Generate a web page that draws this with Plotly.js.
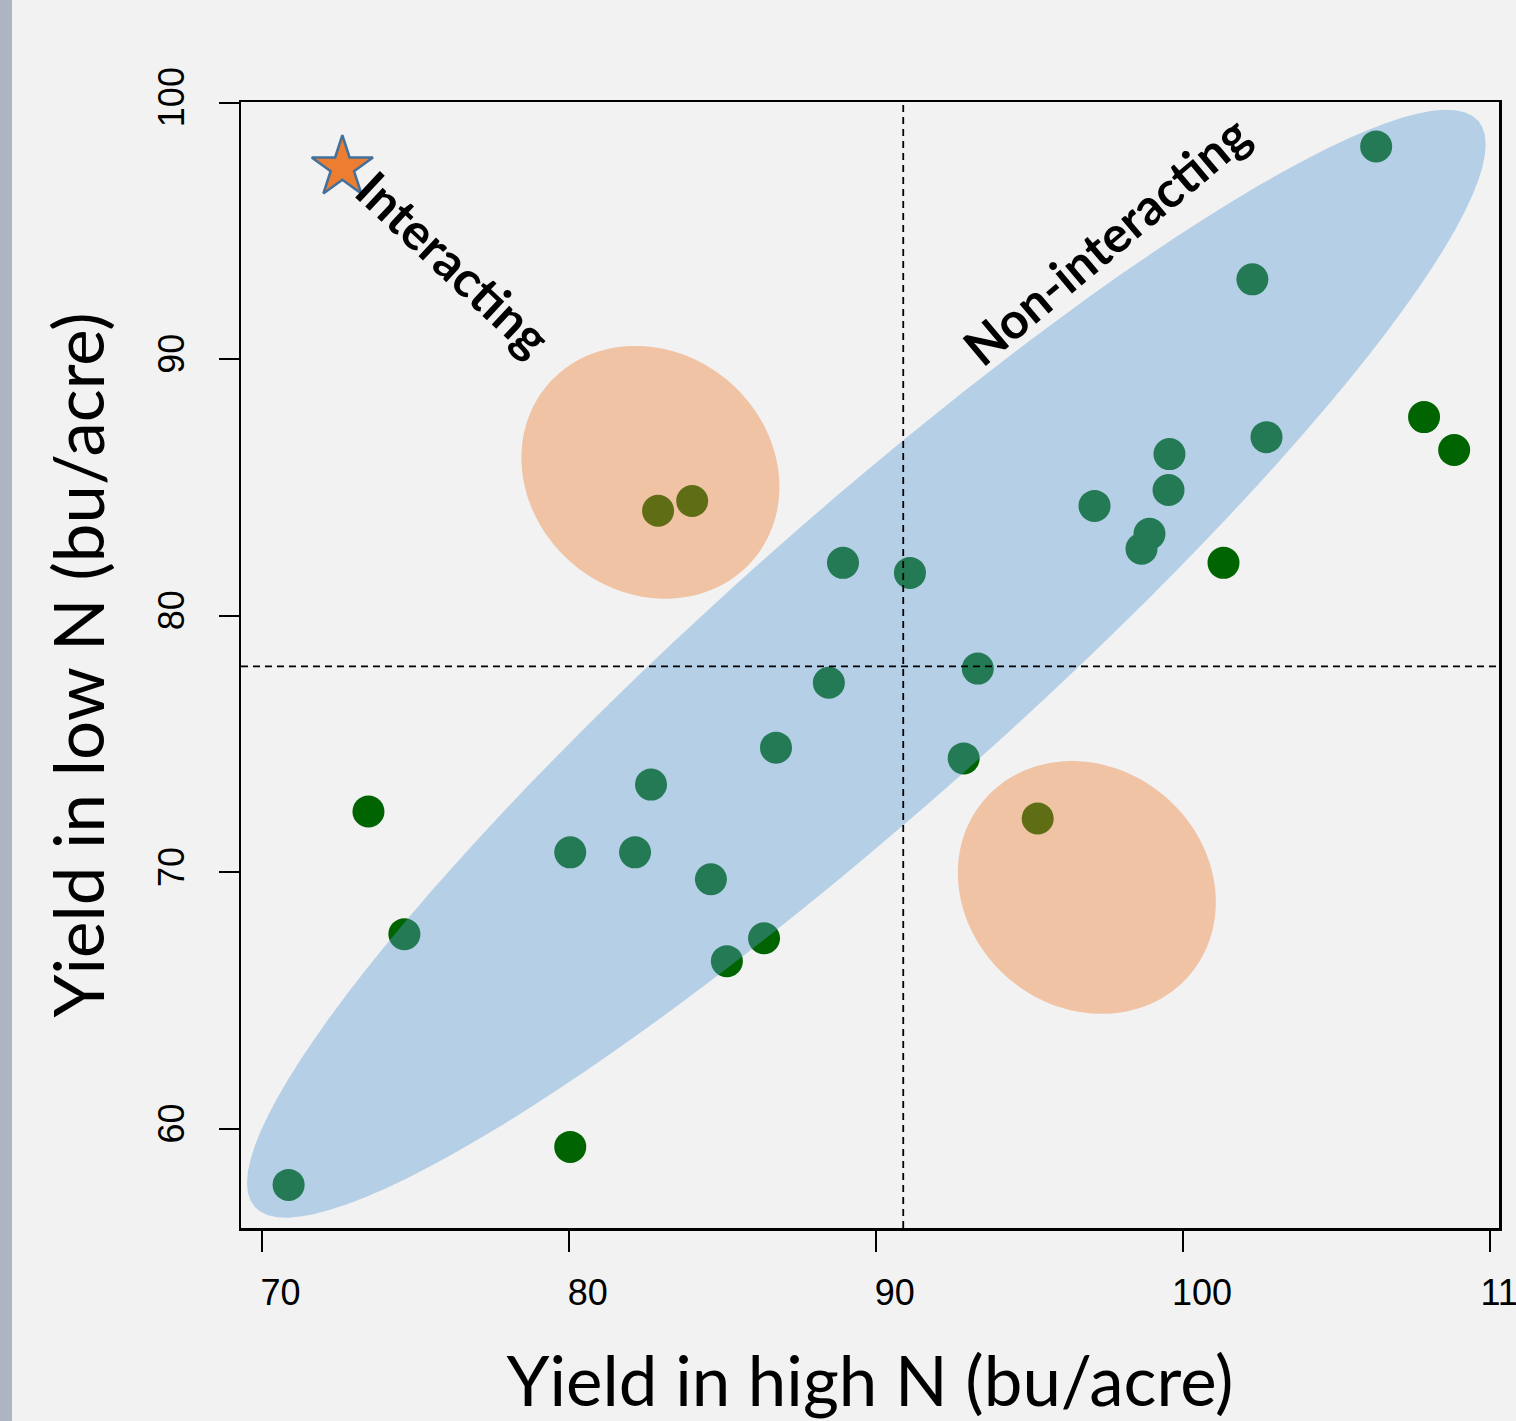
<!DOCTYPE html>
<html><head><meta charset="utf-8">
<script src="https://cdn.plot.ly/plotly-3.0.1.min.js"></script>
<style>html,body{margin:0;padding:0;background:#f2f2f2;}#chart{width:1516px;height:1421px;}</style>
</head><body><div id="chart"></div>
<script>
// ---- data ----
const yieldHighN = [106.29,102.26,107.85,108.83,102.72,99.56,99.53,97.12,98.91,98.65,101.32,88.93,91.11,84.02,82.91,93.32,88.47,86.75,92.86,82.68,73.48,95.27,80.05,82.16,84.63,74.65,86.36,85.15,80.05,70.88];
const yieldLowN  = [98.29,93.11,87.74,86.46,86.96,86.30,84.90,84.28,83.19,82.61,82.06,82.06,81.67,84.47,84.09,77.94,77.39,74.86,74.44,73.42,72.37,72.10,70.78,70.78,69.73,67.59,67.43,66.54,59.30,57.82];
const idealHighN = [72.63];
const idealLowN  = [97.47];
const xTicks = [70,80,90,100,110];
const yTicks = [60,70,80,90,100];
const labelInteracting = 'Interacting';
const labelNonInteracting = 'Non-interacting';

// ---- layout geometry ----
const W = 1516, H = 1421;
const mL = 241, mR = 17, mT = 102, mB = 193;
const xRange = [69.33, 110.29];
const yRange = [56.14, 100.02];
const xs = (W - mL - mR) / (xRange[1] - xRange[0]);
const ys = (H - mT - mB) / (yRange[1] - yRange[0]);

const mean = a => a.reduce((s, v) => s + v, 0) / a.length;
const xMean = mean(yieldHighN), yMean = mean(yieldLowN);

function ellipsePath(cx, cy, aPx, bPx, angDeg) {
  const t = angDeg * Math.PI / 180;
  let d = '';
  for (let i = 0; i <= 120; i++) {
    const u = i / 120 * 2 * Math.PI;
    const px = aPx * Math.cos(u) * Math.cos(t) - bPx * Math.sin(u) * Math.sin(t);
    const py = aPx * Math.cos(u) * Math.sin(t) + bPx * Math.sin(u) * Math.cos(t);
    d += (i ? 'L' : 'M') + (cx + px / xs).toFixed(4) + ',' + (cy + py / ys).toFixed(4);
  }
  return d + 'Z';
}

const traces = [
  {x: yieldHighN, y: yieldLowN, type: 'scatter', mode: 'markers',
   marker: {color: '#006400', size: 32, line: {width: 0}}, hoverinfo: 'x+y'},
  {x: idealHighN, y: idealLowN, type: 'scatter', mode: 'markers',
   marker: {symbol: 'star', color: '#ED7D31', size: 46, line: {color: '#41719C', width: 2.5}}}
];

const shapes = [
  {type: 'rect', xref: 'paper', yref: 'paper', x0: -mL / (W - mL - mR), x1: (12 - mL) / (W - mL - mR),
   y0: -mB / (H - mT - mB), y1: 1 + mT / (H - mT - mB), fillcolor: '#adb5c4', line: {width: 0}, layer: 'below'},
  {type: 'path', xref: 'x', yref: 'y', path: ellipsePath(89.69, 78.13, 818, 146, 41.6),
   fillcolor: '#5B9BD5', opacity: 0.4, line: {width: 0}, layer: 'above'},
  {type: 'path', xref: 'x', yref: 'y', path: ellipsePath(82.66, 85.59, 135, 120, -40),
   fillcolor: '#ED7D31', opacity: 0.4, line: {width: 0}, layer: 'above'},
  {type: 'path', xref: 'x', yref: 'y', path: ellipsePath(96.87, 69.41, 135, 120, -40),
   fillcolor: '#ED7D31', opacity: 0.4, line: {width: 0}, layer: 'above'},
  {type: 'line', xref: 'x', yref: 'paper', x0: xMean, x1: xMean, y0: 0, y1: 1,
   line: {color: '#000', width: 1.8, dash: '7px,5px'}, layer: 'above'},
  {type: 'line', xref: 'paper', yref: 'y', x0: 0, x1: 1, y0: yMean, y1: yMean,
   line: {color: '#000', width: 1.8, dash: '7px,5px'}, layer: 'above'}
];

const annFont = {family: 'Lato, "Open Sans", sans-serif', size: 50, color: '#000', weight: 'bold'};
const annotations = [
  {x: 76.25, y: 93.75, xref: 'x', yref: 'y', text: '<b>' + labelInteracting + '</b>', showarrow: false,
   textangle: 43, font: annFont},
  {x: 97.5, y: 94.65, xref: 'x', yref: 'y', text: '<b>' + labelNonInteracting + '</b>', showarrow: false,
   textangle: -40, font: annFont}
];

const tickFont = {family: '"Liberation Sans", Arial, sans-serif', size: 36, color: '#000'};
const titleFont = {family: 'Lato, "Open Sans", sans-serif', size: 69, color: '#000'};

const layout = {
  width: W, height: H,
  margin: {l: mL, r: mR, t: mT, b: mB, pad: 0},
  paper_bgcolor: '#f2f2f2', plot_bgcolor: '#f2f2f2',
  showlegend: false,
  xaxis: {range: xRange, tickvals: xTicks, ticktext: xTicks.map(String), ticks: 'outside', ticklen: 21, tickwidth: 2,
          tickcolor: '#000', showline: true, linecolor: '#000', linewidth: 2.5, mirror: true,
          showgrid: false, zeroline: false, tickfont: tickFont, ticklabelshift: 19, ticklabelstandoff: 10,
          ticklabeloverflow: 'allow',
          title: {text: 'Yield in high N (bu/acre)', font: titleFont, standoff: 60}},
  yaxis: {range: yRange, tickvals: yTicks, ticktext: yTicks.map(String), ticks: 'outside', ticklen: 20, tickwidth: 2,
          tickcolor: '#000', showline: true, linecolor: '#000', linewidth: 2.5, mirror: true,
          showgrid: false, zeroline: false, tickfont: tickFont, tickangle: -90, ticklabelstandoff: 20,
          ticklabeloverflow: 'allow',
          title: {text: 'Yield in low N (bu/acre)', font: titleFont, standoff: 24}},
  shapes: shapes,
  annotations: annotations
};

Plotly.newPlot('chart', traces, layout, {displayModeBar: false, staticPlot: true});
</script>
</body></html>
